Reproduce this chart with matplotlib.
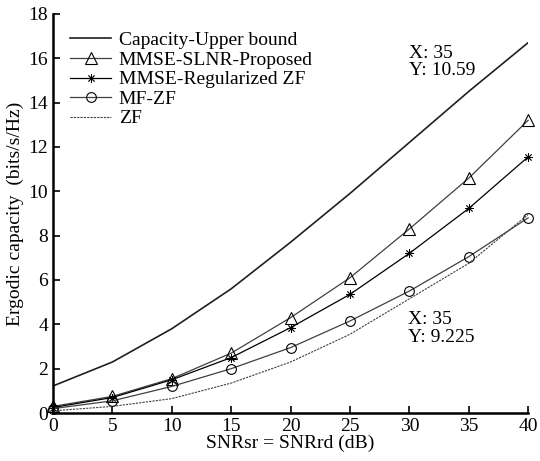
import matplotlib
matplotlib.use("Agg")
import matplotlib.pyplot as plt

plt.rcParams["font.family"] = ["Liberation Serif", "DejaVu Serif"]
plt.rcParams["mathtext.fontset"] = "stix"

# SNR values (dB)
snr = [0, 5, 10, 15, 20, 25, 30, 35, 40]

# ergodic capacity curves (bits/s/Hz)
upper_bound = [1.22, 2.3, 3.8, 5.6, 7.7, 9.9, 12.2, 14.5, 16.7]
slnr_proposed = [0.3, 0.75, 1.55, 2.7, 4.3, 6.1, 8.3, 10.59, 13.2]
reg_zf = [0.25, 0.7, 1.5, 2.5, 3.85, 5.35, 7.2, 9.225, 11.55]
mf_zf = [0.2, 0.55, 1.2, 2.0, 2.95, 4.15, 5.5, 7.05, 8.8]
zf = [0.1, 0.3, 0.65, 1.35, 2.3, 3.55, 5.15, 6.75, 8.95]

x_ticks = [0, 5, 10, 15, 20, 25, 30, 35, 40]
y_ticks = [0, 2, 4, 6, 8, 10, 12, 14, 16, 18]

fig = plt.figure(figsize=(5.4, 4.61), dpi=100)
ax = fig.add_axes([0.098, 0.104, 0.88, 0.866])

ax.plot(snr, upper_bound, color="#202020", lw=1.2, label="Capacity-Upper bound")
ax.plot(snr, slnr_proposed, color="#404040", lw=0.9, marker="^", ms=8,
        mfc="none", mec="black", mew=0.8, clip_on=False,
        label="MMSE-SLNR-Proposed")
ax.plot(snr, reg_zf, color="black", lw=0.9, marker=(8, 2, 0), ms=6,
        mfc="black", mec="black", mew=0.6, clip_on=False,
        label="MMSE-Regularized ZF")
ax.plot(snr, mf_zf, color="#404040", lw=0.9, marker="o", ms=7,
        mfc="none", mec="black", mew=0.8, clip_on=False, label="MF-ZF")
ax.plot(snr, zf, color="#404040", lw=0.8, ls=(0, (2, 1)), label="ZF")

ax.text(30.0, 16.6, "X: 35\nY: 10.59", fontsize=14, va="top", linespacing=1.0)
ax.text(29.9, 4.6, "X: 35\nY: 9.225", fontsize=14, va="top", linespacing=1.05)

ax.set_xlim(0, 40)
ax.set_ylim(0, 18)
ax.set_xticks(x_ticks)
ax.set_yticks(y_ticks)
ax.tick_params(direction="in", length=5, width=1.2, labelsize=14)
for side in ["top", "right"]:
    ax.spines[side].set_visible(False)
for side in ["left", "bottom"]:
    ax.spines[side].set_linewidth(1.8)

ax.set_xlabel("SNRsr = SNRrd (dB)", fontsize=14, labelpad=0)
ax.set_ylabel("Ergodic capacity  (bits/s/Hz)", fontsize=14, labelpad=3)

ax.legend(loc="upper left", bbox_to_anchor=(0.02, 0.975), frameon=False,
          fontsize=14, handlelength=2.1, handletextpad=0.4, labelspacing=0.1,
          borderaxespad=0)

fig.savefig("out.png", dpi=100)
